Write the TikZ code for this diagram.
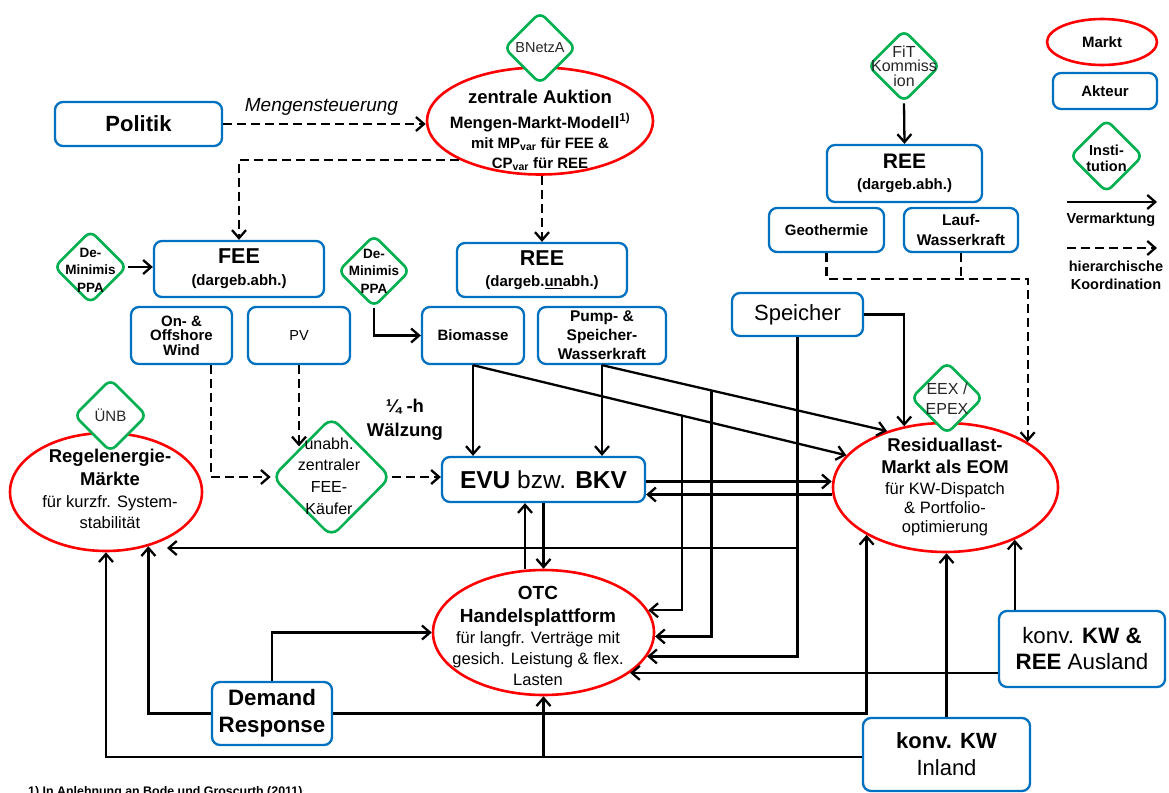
\documentclass[tikz,border=0pt]{standalone}
\usepackage{fontspec}
\setmainfont{Liberation Sans}
\usetikzlibrary{arrows.meta,shapes.geometric,calc}
\definecolor{mred}{RGB}{255,0,0}
\definecolor{ablue}{RGB}{0,112,192}
\definecolor{igreen}{RGB}{0,176,80}
\definecolor{itext}{gray}{0.15}
\newcommand{\fsz}[2]{\fontsize{#1}{#2}\selectfont}

\begin{document}
\begin{tikzpicture}[x=1pt,y=-1pt,
  akteur/.style={draw=ablue, line width=2.3pt, rounded corners=8pt, fill=white, align=center, inner sep=0pt},
  markt/.style={ellipse, draw=mred, line width=2.6pt, fill=white, inner sep=0pt},
  inst/.style={diamond, draw=igreen, line width=2.6pt, rounded corners=7pt, fill=white, inner sep=0pt,
               minimum width=72pt, minimum height=72pt},
  lbl/.style={align=center, inner sep=0pt},
  ilbl/.style={lbl, text=itext},
  conn/.style={line width=2.3pt, -{Straight Barb[length=8pt,width=14pt]}},
  dconn/.style={conn, dash pattern=on 9pt off 5pt},
  dline/.style={line width=2.3pt, dash pattern=on 9pt off 5pt},
]
\useasboundingbox (0,0) rectangle (1169,792);

% ---------- actors (blue boxes) ----------
\node[akteur, minimum width=167pt, minimum height=44pt, font=\fsz{22}{24}\bfseries] (politik) at (138.5,124) {Politik};
\node[akteur, minimum width=170pt, minimum height=56pt, font=\fsz{15}{22}\bfseries] (fee) at (239,269)
  {{\fsz{21.5}{22}FEE}\\(dargeb.abh.)};
\node[akteur, minimum width=170pt, minimum height=54pt, font=\fsz{15}{21}\bfseries] (reeu) at (542,270)
  {{\fsz{21.5}{21}REE}\\(dargeb.\underline{un}abh.)};
\node[akteur, minimum width=155pt, minimum height=57pt, font=\fsz{15}{21}\bfseries] (reer) at (904.5,173.5)
  {{\fsz{21}{21}REE}\\(dargeb.abh.)};
\node[akteur, minimum width=101pt, minimum height=57pt, font=\fsz{15}{14.5}\bfseries] (wind) at (181.5,335.5)
  {On- \&\\Offshore\\Wind};
\node[akteur, minimum width=102pt, minimum height=57pt, font=\fsz{14.5}{16}] (pv) at (299,335.5) {PV};
\node[akteur, minimum width=102pt, minimum height=57pt, font=\fsz{15}{17}\bfseries] (bio) at (473,335.5) {Biomasse};
\node[akteur, minimum width=128pt, minimum height=57pt, font=\fsz{15.5}{19}\bfseries] (pump) at (602,335.5)
  {Pump- \&\\Speicher-\\Wasserkraft};
\node[akteur, minimum width=131pt, minimum height=43pt, font=\fsz{22}{24}] (spe) at (797.5,314.5) {Speicher};
\node[akteur, minimum width=115pt, minimum height=44pt, font=\fsz{15}{17}\bfseries] (geo) at (826.5,230) {Geothermie};
\node[akteur, minimum width=114pt, minimum height=44pt, font=\fsz{15.5}{20}\bfseries] (lauf) at (961,230)
  {Lauf-\\Wasserkraft};
\node[akteur, minimum width=203pt, minimum height=45pt, font=\fsz{24.5}{26}] (evu) at (543.5,479.5)
  {\textbf{EVU} bzw. \textbf{BKV}};
\node[akteur, minimum width=120pt, minimum height=63pt, font=\fsz{22.3}{27}\bfseries] (dr) at (272,713.5)
  {Demand\\Response};
\node[akteur, minimum width=166pt, minimum height=76pt, font=\fsz{22.3}{26}] (aus) at (1082,649)
  {konv. \textbf{KW \&}\\\textbf{REE} Ausland};
\node[akteur, minimum width=167pt, minimum height=73pt, font=\fsz{22}{27}] (inl) at (946.5,754.5)
  {\textbf{konv. KW}\\Inland};

% ---------- markets (red ellipses) ----------
\node[markt, minimum width=226pt, minimum height=107pt] (auk) at (540,121) {};
\node[lbl, font=\fsz{15}{20}\bfseries] (auk-t) at (540,130)
  {{\fsz{18.5}{20}zentrale Auktion}\\[5pt]
   {\fsz{16.5}{20}Mengen-Markt-Modell\textsuperscript{1)}}\\
   mit MP\textsubscript{var} für FEE \&\\
   CP\textsubscript{var} für REE};
\node[markt, minimum width=192pt, minimum height=118pt] (reg) at (106,492) {};
\node[lbl, font=\fsz{16.5}{21}] (reg-t) at (110,489)
  {{\bfseries\fsz{18.5}{21}Regelenergie-}\\[2pt]
   {\bfseries\fsz{18.5}{21}Märkte}\\[1pt]
   für kurzfr. System-\\stabilität};
\node[markt, minimum width=225pt, minimum height=129pt] (res) at (945.5,487.5) {};
\node[lbl, font=\fsz{16.5}{19}] (res-t) at (945,487)
  {{\bfseries\fsz{18.5}{19}Residuallast-}\\[3.5pt]
   {\bfseries\fsz{18.5}{19}Markt als EOM}\\[2pt]
   für KW-Dispatch\\\& Portfolio-\\optimierung};
\node[markt, minimum width=221pt, minimum height=125pt] (otc) at (543.5,632.5) {};
\node[lbl, font=\fsz{16.5}{21}] (otc-t) at (538,636)
  {{\bfseries\fsz{19}{21}OTC}\\[2pt]
   {\bfseries\fsz{19}{21}Handelsplattform}\\
   für langfr. Verträge mit\\gesich. Leistung \& flex.\\Lasten};

% ---------- institutions (green diamonds) ----------
\node[inst] (bnetza) at (540,48) {};
\node[ilbl, font=\fsz{14.5}{16}] (bnetza-t) at (540,48) {BNetzA};
\node[inst] (fit) at (904,66) {};
\node[ilbl, font=\fsz{16}{14.5}] (fit-t) at (904,66) {FiT\\Kommiss\\ion};
\node[inst, minimum width=73pt, minimum height=73pt] (dm1) at (90.5,267) {};
\node[lbl, font=\fsz{13.5}{17.5}\bfseries] (dm1-t) at (90.5,270) {De-\\Minimis\\PPA};
\node[inst] (dm2) at (374,271) {};
\node[lbl, font=\fsz{13.5}{17.5}\bfseries] (dm2-t) at (374,271) {De-\\Minimis\\PPA};
\node[inst, minimum width=73pt, minimum height=73pt] (unb) at (110.5,415.5) {};
\node[ilbl, font=\fsz{15}{16}] (unb-t) at (110.5,415) {ÜNB};
\node[inst, minimum width=119pt, minimum height=120pt, rounded corners=10pt] (kaeufer) at (331.5,477) {};
\node[lbl, font=\fsz{16}{21.7}] (kaeufer-t) at (329,476) {unabh.\\zentraler\\FEE-\\Käufer};
\node[inst] (eex) at (947,398) {};
\node[ilbl, font=\fsz{16}{20}] (eex-t) at (947,399) {EEX /\\EPEX};

% ---------- free text ----------
\node[lbl, font=\fsz{19}{21}\itshape, anchor=base] (mst) at (321.5,111) {Mengensteuerung};
\node[lbl, font=\fsz{18.5}{24}\bfseries] (wz) at (405,420) {¼ -h\\Wälzung};
\node[lbl, font=\fsz{12.4}{14}\bfseries, anchor=base west] (fn) at (28,795)
  {1) In Anlehnung an Bode und Groscurth (2011)};

% ---------- legend ----------
\node[markt, minimum width=110pt, minimum height=46pt] (lg-markt) at (1102,42) {};
\node[lbl, font=\fsz{15}{17}\bfseries] (lg-markt-t) at (1102,42) {Markt};
\node[akteur, minimum width=104pt, minimum height=36pt, font=\fsz{15}{17}\bfseries] (lg-akteur) at (1105,91) {Akteur};
\node[inst, minimum width=73pt, minimum height=73pt] (lg-inst) at (1106.5,156) {};
\node[lbl, font=\fsz{14.5}{16}\bfseries] (lg-inst-t) at (1106.5,158.5) {Insti-\\tution};
\coordinate (lg-s1) at (1067,202);
\coordinate (lg-s2) at (1157,202);
\coordinate (lg-d1) at (1067,248);
\coordinate (lg-d2) at (1157,248);
\draw[conn] (lg-s1) -- (lg-s2);
\draw[dconn] (lg-d1) -- (lg-d2);
\node[lbl, font=\fsz{14.5}{16}\bfseries] (lg-verm) at (1111,220) {Vermarktung};
\node[lbl, font=\fsz{14.5}{18}\bfseries] (lg-koord) at (1116,275) {hierarchische\\Koordination};

% ---------- hierarchical coordination (dashed) ----------
\draw[dconn] (politik.east) -- (politik.east -| auk.west);
\draw[dconn] (auk.south west) -| (fee.north);
\draw[dconn] (reeu.north |- auk.south) -- (reeu.north);
\draw[dconn] ([xshift=29.5pt]wind.south) |- (kaeufer.west);
\draw[dconn] (pv.south) -- (pv.south |- kaeufer.north west);
\draw[dconn] (kaeufer.east) -- (kaeufer.east -| evu.west);
\coordinate (hk) at ($(geo.south)+(0,26)$);
\draw[dconn] (geo.south) -- (hk) -- (hk -| res.29) -- (res.29);
\draw[dline] (lauf.south) -- (lauf.south |- hk);

% ---------- marketing (solid) ----------
\draw[conn] (dm1.east) -- (dm1.east -| fee.west);
\draw[conn] (dm2.south) |- (bio.west);
\draw[conn] (fit.south) -- (reer.north);
\draw[conn] (bio.south) -- (bio.south |- evu.north);
\draw[conn] (pump.south) -- (pump.south |- evu.north);
\draw[conn] (bio.south) -- (res.162);
\draw[conn] (pump.south) -- (res.136);
\coordinate (bio-br) at ($(bio.south)!0.559!(res.162)$);
\coordinate (pump-br) at ($(pump.south)!0.384!(res.136)$);
\draw[conn] (bio-br) |- (otc.12);
\draw[conn] (pump-br) |- (otc.-2);
\draw[conn] (spe.east) -| (res.124);
\coordinate (reg-in) at ($(reg.center)+(61,56)$);
\draw[conn] (spe.south) |- (reg-in);
\draw[conn] (spe.south) |- (otc.-13);
\coordinate (evu-o) at ([yshift=-2pt]evu.east);
\coordinate (evu-i) at ([yshift=-15pt]evu.east);
\draw[conn] (evu-o) -- (evu-o -| res.west);
\draw[conn] (evu-i -| res.west) -- (evu-i);
\coordinate (otc-up) at ([xshift=-18.5pt]otc.north);
\draw[conn] (otc-up) -- (otc-up |- evu.south);
\draw[conn] (evu.south) -- (otc.north);
\draw[conn] (dr.north) |- (otc.west);
\draw[conn] (dr.west) -| (reg.-52);
\draw[conn] (dr.east) -| (res.211);
\coordinate (inl-w) at ([yshift=-2.5pt]inl.west);
\draw[conn] (inl-w) -| (reg.south);
\draw[conn] (otc.south |- inl-w) -- (otc.south);
\draw[conn] (inl.north) -- (inl.north |- res.south);
\draw[conn] (res.-37 |- aus.north) -- (res.-37);
\draw[conn] (otc.-25 -| aus.west) -- (otc.-25);
\end{tikzpicture}
\end{document}
